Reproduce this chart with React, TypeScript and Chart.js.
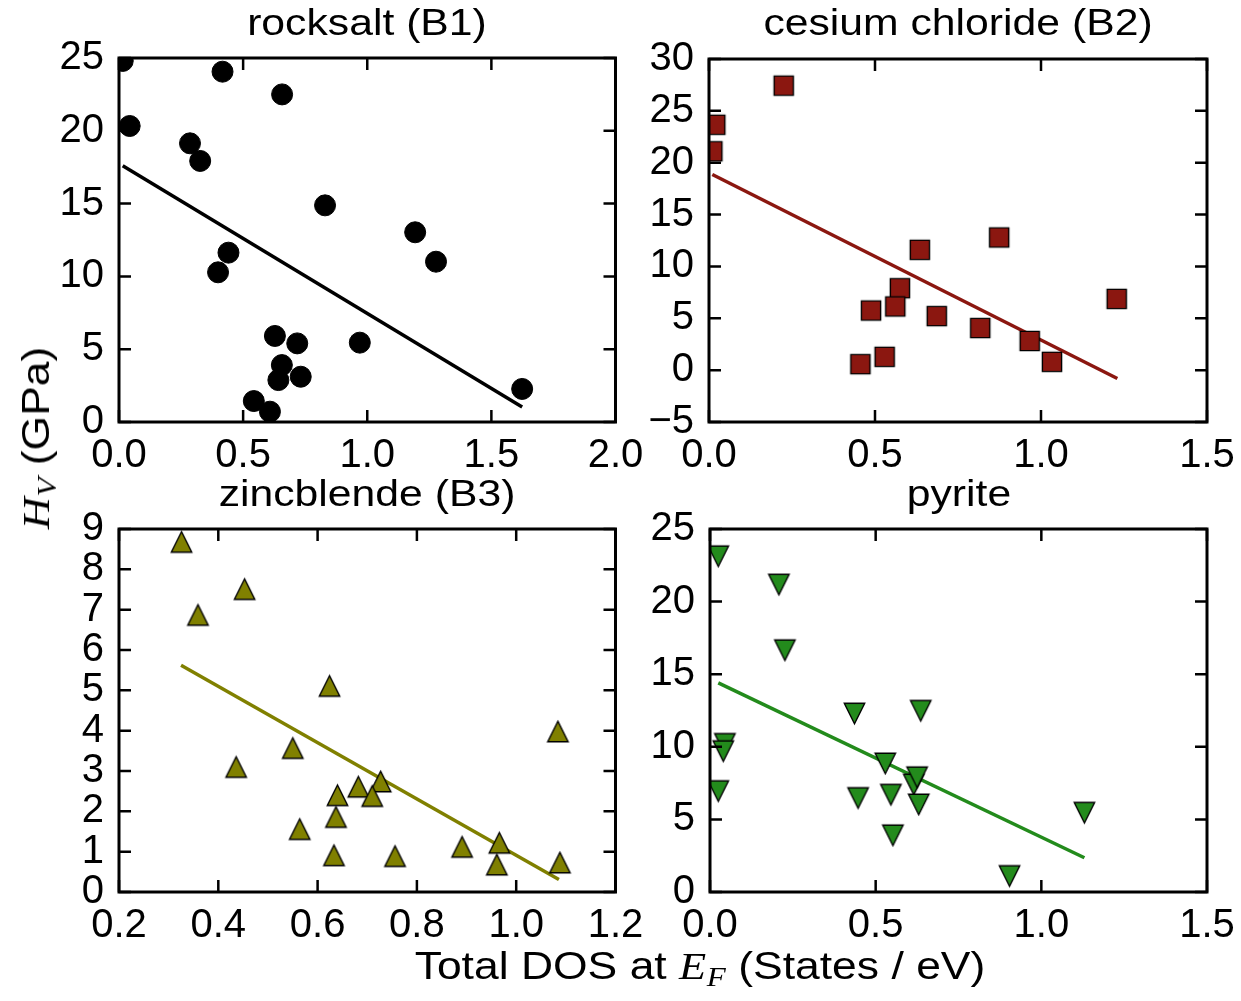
import React, { useEffect, useRef } from 'react';
import { Chart, registerables } from 'chart.js';

Chart.register(...registerables);

// ---------------- data ----------------
// rocksalt (B1)
const rocksaltX = [0.015, 0.417, 0.657, 0.043, 0.286, 0.327, 0.830, 1.193, 1.277, 0.441, 0.399, 0.628, 0.718, 0.970, 0.656, 0.642, 0.732, 1.624, 0.543, 0.608];
const rocksaltY = [24.8, 24.06, 22.5, 20.33, 19.14, 17.93, 14.88, 13.03, 11.01, 11.63, 10.28, 5.91, 5.40, 5.45, 3.91, 2.88, 3.11, 2.27, 1.44, 0.71];
const rocksaltFitX = [0.015, 1.624];
const rocksaltFitY = [17.6, 1.03];
const rocksaltXTicks = [0, 0.5, 1.0, 1.5, 2.0];
const rocksaltYTicks = [0, 5, 10, 15, 20, 25];

// cesium chloride (B2)
const cesiumX = [0.010, 0.019, 0.225, 0.635, 0.874, 0.575, 0.561, 0.488, 0.686, 1.228, 0.817, 0.966, 1.033, 0.456, 0.529];
const cesiumY = [21.1, 23.66, 27.43, 11.6, 12.79, 7.9, 6.14, 5.75, 5.21, 6.87, 4.06, 2.81, 0.8, 0.58, 1.28];
const cesiumFitX = [0.010, 1.230];
const cesiumFitY = [18.86, -0.8];
const cesiumXTicks = [0, 0.5, 1.0, 1.5];
const cesiumYTicks = [-5, 0, 5, 10, 15, 20, 25, 30];

// zincblende (B3)
const zincX = [0.326, 0.453, 0.359, 0.624, 1.084, 0.550, 0.436, 0.727, 0.682, 0.710, 0.640, 0.637, 0.564, 0.891, 0.966, 0.633, 0.756, 0.961, 1.088];
const zincY = [8.68, 7.51, 6.87, 5.11, 3.98, 3.57, 3.10, 2.74, 2.61, 2.38, 2.40, 1.86, 1.56, 1.12, 1.22, 0.91, 0.89, 0.68, 0.73];
const zincFitX = [0.325, 1.086];
const zincFitY = [5.62, 0.31];
const zincXTicks = [0.2, 0.4, 0.6, 0.8, 1.0, 1.2];
const zincYTicks = [0, 1, 2, 3, 4, 5, 6, 7, 8, 9];

// pyrite
const pyriteX = [0.025, 0.208, 0.226, 0.436, 0.636, 0.045, 0.040, 0.025, 0.447, 0.546, 0.529, 0.615, 0.625, 0.630, 0.552, 1.130, 0.904];
const pyriteY = [23.12, 21.17, 16.65, 12.29, 12.48, 10.2, 9.7, 6.95, 6.47, 6.70, 8.85, 7.4, 7.9, 6.03, 3.90, 5.46, 1.10];
const pyriteFitX = [0.025, 1.130];
const pyriteFitY = [14.40, 2.36];
const pyriteXTicks = [0, 0.5, 1.0, 1.5];
const pyriteYTicks = [0, 5, 10, 15, 20, 25];

// ---------------- layout / style ----------------
const W = 1241;
const H = 1001;
const FONT = "'Liberation Sans', Arial, Helvetica, sans-serif";
const SERIF = "'Liberation Serif', 'Times New Roman', serif";
const TICK_FONT = 40;
const TITLE_FONT = 36.5;
const LABEL_FONT = 38;
const STRETCH = 1.17;
const TICK_LEN = 12;
const YW = 110; // room for y tick labels
const XH = 70; // room for x tick labels

type Area = { l: number; t: number; r: number; b: number };
type Panel = {
  title: string;
  xs: number[]; ys: number[];
  fitX: number[]; fitY: number[];
  xTicks: number[]; yTicks: number[];
  color: string;
  marker: 'circle' | 'square' | 'up' | 'down';
  area: Area;
  titleBase: number;
};

const PANELS: Panel[] = [
  { title: 'rocksalt (B1)', xs: rocksaltX, ys: rocksaltY, fitX: rocksaltFitX, fitY: rocksaltFitY, xTicks: rocksaltXTicks, yTicks: rocksaltYTicks, color: '#000000', marker: 'circle', area: { l: 119, t: 58, r: 615.5, b: 422 }, titleBase: 36 },
  { title: 'cesium chloride (B2)', xs: cesiumX, ys: cesiumY, fitX: cesiumFitX, fitY: cesiumFitY, xTicks: cesiumXTicks, yTicks: cesiumYTicks, color: '#8b1710', marker: 'square', area: { l: 709, t: 59, r: 1207, b: 422 }, titleBase: 36 },
  { title: 'zincblende (B3)', xs: zincX, ys: zincY, fitX: zincFitX, fitY: zincFitY, xTicks: zincXTicks, yTicks: zincYTicks, color: '#808000', marker: 'up', area: { l: 119, t: 529, r: 615.5, b: 892 }, titleBase: 507 },
  { title: 'pyrite', xs: pyriteX, ys: pyriteY, fitX: pyriteFitX, fitY: pyriteFitY, xTicks: pyriteXTicks, yTicks: pyriteYTicks, color: '#238b1c', marker: 'down', area: { l: 710, t: 529, r: 1207, b: 892 }, titleBase: 507 },
];

function makeMarker(kind: string, fill: string): HTMLCanvasElement | string {
  if (kind === 'circle') return 'circle';
  const half = kind === 'square' ? 9.6 : 10.2;
  const m = 2;
  const size = Math.ceil(2 * half + 2 * m);
  const c = document.createElement('canvas');
  c.width = size;
  c.height = size;
  const g = c.getContext('2d')!;
  const cx = size / 2;
  const cy = size / 2;
  g.beginPath();
  if (kind === 'square') {
    g.rect(cx - half, cy - half, 2 * half, 2 * half);
  } else if (kind === 'up') {
    g.moveTo(cx, cy - half);
    g.lineTo(cx - half, cy + half);
    g.lineTo(cx + half, cy + half);
    g.closePath();
  } else {
    g.moveTo(cx, cy + half);
    g.lineTo(cx - half, cy - half);
    g.lineTo(cx + half, cy - half);
    g.closePath();
  }
  g.fillStyle = fill;
  g.fill();
  g.lineWidth = 1.4;
  g.strokeStyle = '#000';
  g.lineJoin = 'miter';
  g.stroke();
  return c;
}

const framePlugin = {
  id: 'frame',
  afterDraw(chart: any) {
    const { ctx, chartArea } = chart;
    const { left, top, right, bottom } = chartArea;
    const xs = chart.scales.x;
    const ys = chart.scales.y;
    ctx.save();
    ctx.strokeStyle = '#000';
    ctx.lineWidth = 2.5;
    ctx.beginPath();
    xs.ticks.forEach((t: any) => {
      const px = xs.getPixelForValue(t.value);
      ctx.moveTo(px, bottom);
      ctx.lineTo(px, bottom - TICK_LEN);
      ctx.moveTo(px, top);
      ctx.lineTo(px, top + TICK_LEN);
    });
    ys.ticks.forEach((t: any) => {
      const py = ys.getPixelForValue(t.value);
      ctx.moveTo(left, py);
      ctx.lineTo(left + TICK_LEN, py);
      ctx.moveTo(right, py);
      ctx.lineTo(right - TICK_LEN, py);
    });
    ctx.stroke();
    ctx.lineWidth = 3;
    ctx.strokeRect(left, top, right - left, bottom - top);
    ctx.restore();
  },
};

function fmtY(v: number) {
  const s = String(Math.round(v));
  return s.replace('-', '\u2212');
}

function PanelChart({ p }: { p: Panel }) {
  const ref = useRef<HTMLCanvasElement>(null);
  useEffect(() => {
    const a = p.area;
    const marker = makeMarker(p.marker, p.color);
    const chart = new Chart(ref.current as HTMLCanvasElement, {
      type: 'scatter',
      data: {
        datasets: [
          {
            data: p.xs.map((x, i) => ({ x, y: p.ys[i] })),
            pointStyle: marker as any,
            pointRadius: 10.5,
            pointHoverRadius: 10.5,
            pointBackgroundColor: p.color,
            pointBorderColor: '#000',
            pointBorderWidth: 1,
            showLine: false,
            clip: 0 as any,
          },
          {
            data: p.fitX.map((x, i) => ({ x, y: p.fitY[i] })),
            showLine: true,
            pointRadius: 0,
            pointHoverRadius: 0,
            borderColor: p.color,
            borderWidth: 3.5,
            fill: false,
            clip: 0 as any,
          },
        ],
      },
      options: {
        responsive: false,
        animation: false,
        events: [],
        layout: { padding: { left: a.l - YW, top: a.t, right: W - a.r, bottom: H - a.b - XH } },
        plugins: { legend: { display: false }, tooltip: { enabled: false }, title: { display: false } },
        scales: {
          x: {
            type: 'linear',
            min: p.xTicks[0],
            max: p.xTicks[p.xTicks.length - 1],
            grid: { display: false, drawTicks: false },
            border: { display: false },
            ticks: {
              autoSkip: false,
              maxRotation: 0,
              minRotation: 0,
              padding: 10,
              color: '#000',
              font: { family: FONT, size: TICK_FONT },
              callback: (v: any) => Number(v).toFixed(1),
            },
            afterBuildTicks: (s: any) => { s.ticks = p.xTicks.map((v) => ({ value: v })); },
            afterFit: (s: any) => { s.height = XH; s.paddingLeft = 0; s.paddingRight = 0; },
          },
          y: {
            type: 'linear',
            min: p.yTicks[0],
            max: p.yTicks[p.yTicks.length - 1],
            grid: { display: false, drawTicks: false },
            border: { display: false },
            ticks: {
              autoSkip: false,
              padding: 15,
              color: '#000',
              font: { family: FONT, size: TICK_FONT },
              callback: (v: any) => fmtY(Number(v)),
            },
            afterBuildTicks: (s: any) => { s.ticks = p.yTicks.map((v) => ({ value: v })); },
            afterFit: (s: any) => { s.width = YW; s.paddingTop = 0; s.paddingBottom = 0; },
          },
        },
      } as any,
      plugins: [framePlugin],
    });
    return () => chart.destroy();
  }, [p]);
  return (
    <canvas
      ref={ref}
      width={W}
      height={H}
      style={{ position: 'absolute', left: 0, top: 0, width: W, height: H }}
    />
  );
}

function Label({ x, base, size, children }: { x: number; base: number; size: number; children: React.ReactNode }) {
  return (
    <div
      style={{
        position: 'absolute',
        left: x - 500,
        width: 1000,
        top: base - 0.8465 * size,
        textAlign: 'center',
        fontFamily: FONT,
        fontSize: size,
        lineHeight: 1,
        whiteSpace: 'nowrap',
        color: '#000',
        transform: `scaleX(${STRETCH})`,
        transformOrigin: `500px 0px`,
      }}
    >
      {children}
    </div>
  );
}

const mathI: React.CSSProperties = { fontFamily: SERIF, fontStyle: 'italic' };
const subS: React.CSSProperties = { fontFamily: SERIF, fontStyle: 'italic', fontSize: '0.7em', position: 'relative', top: '0.28em', marginLeft: '0.02em' };

export default function App() {
  return (
    <div style={{ position: 'absolute', left: 0, top: 0, width: W, height: H, background: '#fff', overflow: 'hidden' }}>
      {PANELS.map((p) => (
        <PanelChart key={p.title} p={p} />
      ))}
      {PANELS.map((p) => (
        <Label key={'t' + p.title} x={(p.area.l + p.area.r) / 2} base={p.titleBase} size={TITLE_FONT}>{p.title}</Label>
      ))}
      <Label x={700} base={979} size={LABEL_FONT}>
        Total DOS at <span style={mathI}>E</span><span style={subS}>F</span> (States / eV)
      </Label>
      <div
        style={{
          position: 'absolute',
          left: 36,
          top: 438,
          transform: `translate(-50%, -50%) rotate(-90deg) scaleX(${STRETCH})`,
          fontFamily: FONT,
          fontSize: LABEL_FONT,
          lineHeight: 1,
          whiteSpace: 'nowrap',
          color: '#000',
        }}
      >
        <span style={mathI}>H</span><span style={subS}>V</span> (GPa)
      </div>
    </div>
  );
}
